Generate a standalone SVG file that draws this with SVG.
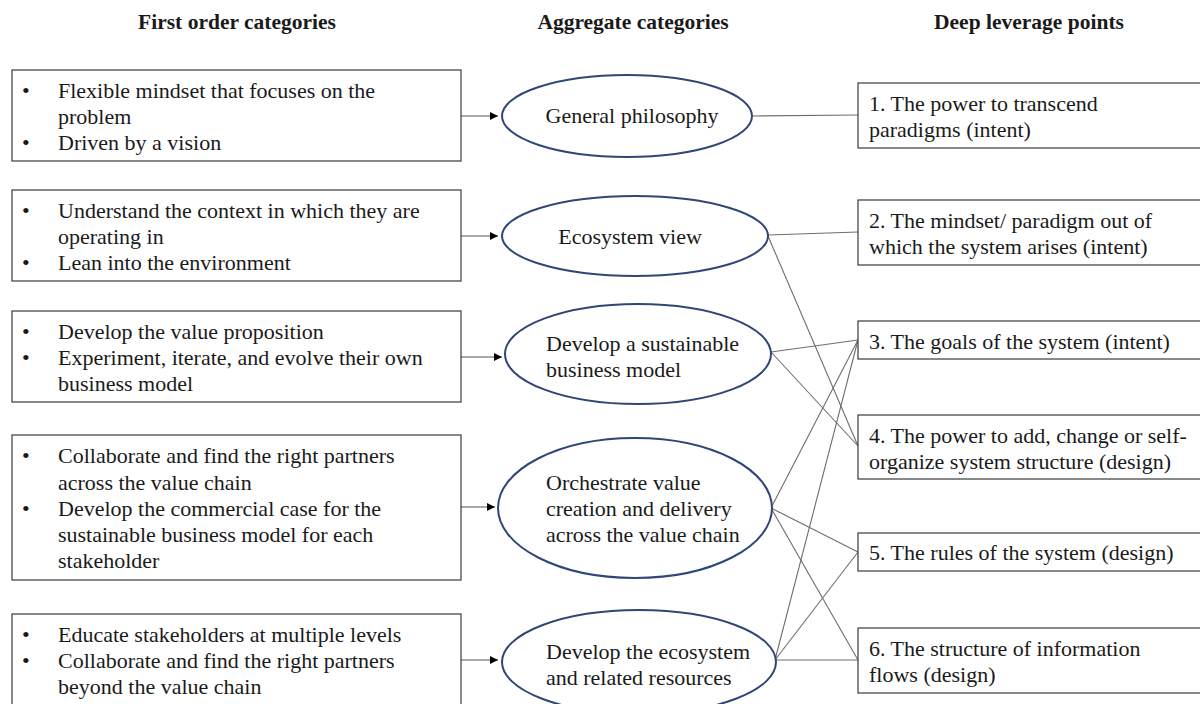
<svg xmlns="http://www.w3.org/2000/svg" width="1200" height="704" viewBox="0 0 1200 704">
<style>
text{font-family:"Liberation Serif","Times New Roman",serif;font-size:22px;fill:#1a1a1a}
.h{font-weight:bold;text-anchor:middle;font-size:21.5px}
.box{fill:#fff;stroke:#3a3a3a;stroke-width:1.2}
.ell{fill:#fff;stroke:#2f4777;stroke-width:2}
.c{stroke:#6e6e6e;stroke-width:1.1;fill:none}
.a{stroke:#555;stroke-width:1.1;fill:none;marker-end:url(#ah)}
.m{text-anchor:middle}
</style>
<defs>
<marker id="ah" viewBox="0 0 10 10" refX="10" refY="5" markerWidth="9" markerHeight="8" markerUnits="userSpaceOnUse" orient="auto">
<path d="M0,0 L10,5 L0,10 z" fill="#000"/>
</marker>
</defs>
<rect width="1200" height="704" fill="#fff"/>
<g id="headers">
<text class="h" x="237" y="29">First order categories</text>
<text class="h" x="633" y="29">Aggregate categories</text>
<text class="h" x="1029" y="29">Deep leverage points</text>
</g>
<g id="connectors">
<line class="a" x1="461" y1="116" x2="498" y2="116"/>
<line class="a" x1="461" y1="236" x2="498" y2="236"/>
<line class="a" x1="461" y1="357" x2="502" y2="357"/>
<line class="a" x1="461" y1="507" x2="495" y2="507"/>
<line class="a" x1="461" y1="660" x2="498" y2="660"/>
<line class="c" x1="752" y1="116" x2="858" y2="115"/>
<line class="c" x1="768" y1="235" x2="858" y2="232"/>
<line class="c" x1="768" y1="236" x2="858" y2="446"/>
<line class="c" x1="771" y1="352" x2="858" y2="340"/>
<line class="c" x1="771" y1="352" x2="858" y2="446"/>
<line class="c" x1="771" y1="508" x2="858" y2="340"/>
<line class="c" x1="771" y1="508" x2="858" y2="552"/>
<line class="c" x1="771" y1="508" x2="858" y2="660"/>
<line class="c" x1="775" y1="660" x2="858" y2="340"/>
<line class="c" x1="775" y1="660" x2="858" y2="552"/>
<line class="c" x1="775" y1="660" x2="858" y2="660"/>
</g>
<g id="L1">
<rect class="box" x="12" y="70" width="449" height="91"/>
<text x="22" y="98">•</text><text x="58" y="98">Flexible mindset that focuses on the</text>
<text x="58" y="124">problem</text>
<text x="22" y="150">•</text><text x="58" y="150">Driven by a vision</text>
</g>
<g id="L2">
<rect class="box" x="12" y="190" width="449" height="91"/>
<text x="22" y="218">•</text><text x="58" y="218">Understand the context in which they are</text>
<text x="58" y="244">operating in</text>
<text x="22" y="270">•</text><text x="58" y="270">Lean into the environment</text>
</g>
<g id="L3">
<rect class="box" x="12" y="311" width="449" height="91"/>
<text x="22" y="339">•</text><text x="58" y="339">Develop the value proposition</text>
<text x="22" y="365">•</text><text x="58" y="365">Experiment, iterate, and evolve their own</text>
<text x="58" y="391">business model</text>
</g>
<g id="L4">
<rect class="box" x="12" y="435" width="449" height="145"/>
<text x="22" y="463">•</text><text x="58" y="463">Collaborate and find the right partners</text>
<text x="58" y="490">across the value chain</text>
<text x="22" y="516">•</text><text x="58" y="516">Develop the commercial case for the</text>
<text x="58" y="542">sustainable business model for each</text>
<text x="58" y="568">stakeholder</text>
</g>
<g id="L5">
<rect class="box" x="12" y="614" width="449" height="120"/>
<text x="22" y="642">•</text><text x="58" y="642">Educate stakeholders at multiple levels</text>
<text x="22" y="668">•</text><text x="58" y="668">Collaborate and find the right partners</text>
<text x="58" y="694">beyond the value chain</text>
</g>
<g id="E1">
<ellipse class="ell" cx="627" cy="116" rx="125" ry="41"/>
<text class="m" x="632" y="123">General philosophy</text>
</g>
<g id="E2">
<ellipse class="ell" cx="635" cy="236" rx="133" ry="40"/>
<text class="m" x="630" y="244">Ecosystem view</text>
</g>
<g id="E3">
<ellipse class="ell" cx="638" cy="354" rx="133" ry="50"/>
<text x="546" y="351">Develop a sustainable</text>
<text x="546" y="377">business model</text>
</g>
<g id="E4">
<ellipse class="ell" cx="635" cy="508" rx="137" ry="70"/>
<text x="546" y="490">Orchestrate value</text>
<text x="546" y="516">creation and delivery</text>
<text x="546" y="542">across the value chain</text>
</g>
<g id="E5">
<ellipse class="ell" cx="639" cy="662" rx="137" ry="52"/>
<text x="546" y="659">Develop the ecosystem</text>
<text x="546" y="685">and related resources</text>
</g>
<g id="R1">
<rect class="box" x="858" y="83" width="360" height="65"/>
<text x="869" y="111">1. The power to transcend</text>
<text x="869" y="137">paradigms (intent)</text>
</g>
<g id="R2">
<rect class="box" x="858" y="200" width="360" height="65"/>
<text x="869" y="228">2. The mindset/ paradigm out of</text>
<text x="869" y="254">which the system arises (intent)</text>
</g>
<g id="R3">
<rect class="box" x="858" y="321" width="360" height="38"/>
<text x="869" y="349">3. The goals of the system (intent)</text>
</g>
<g id="R4">
<rect class="box" x="858" y="415" width="360" height="64"/>
<text x="869" y="443">4. The power to add, change or self-</text>
<text x="869" y="469">organize system structure (design)</text>
</g>
<g id="R5">
<rect class="box" x="858" y="533" width="360" height="38"/>
<text x="869" y="560">5. The rules of the system (design)</text>
</g>
<g id="R6">
<rect class="box" x="858" y="628" width="360" height="65"/>
<text x="869" y="656">6. The structure of information</text>
<text x="869" y="682">flows (design)</text>
</g>
</svg>
